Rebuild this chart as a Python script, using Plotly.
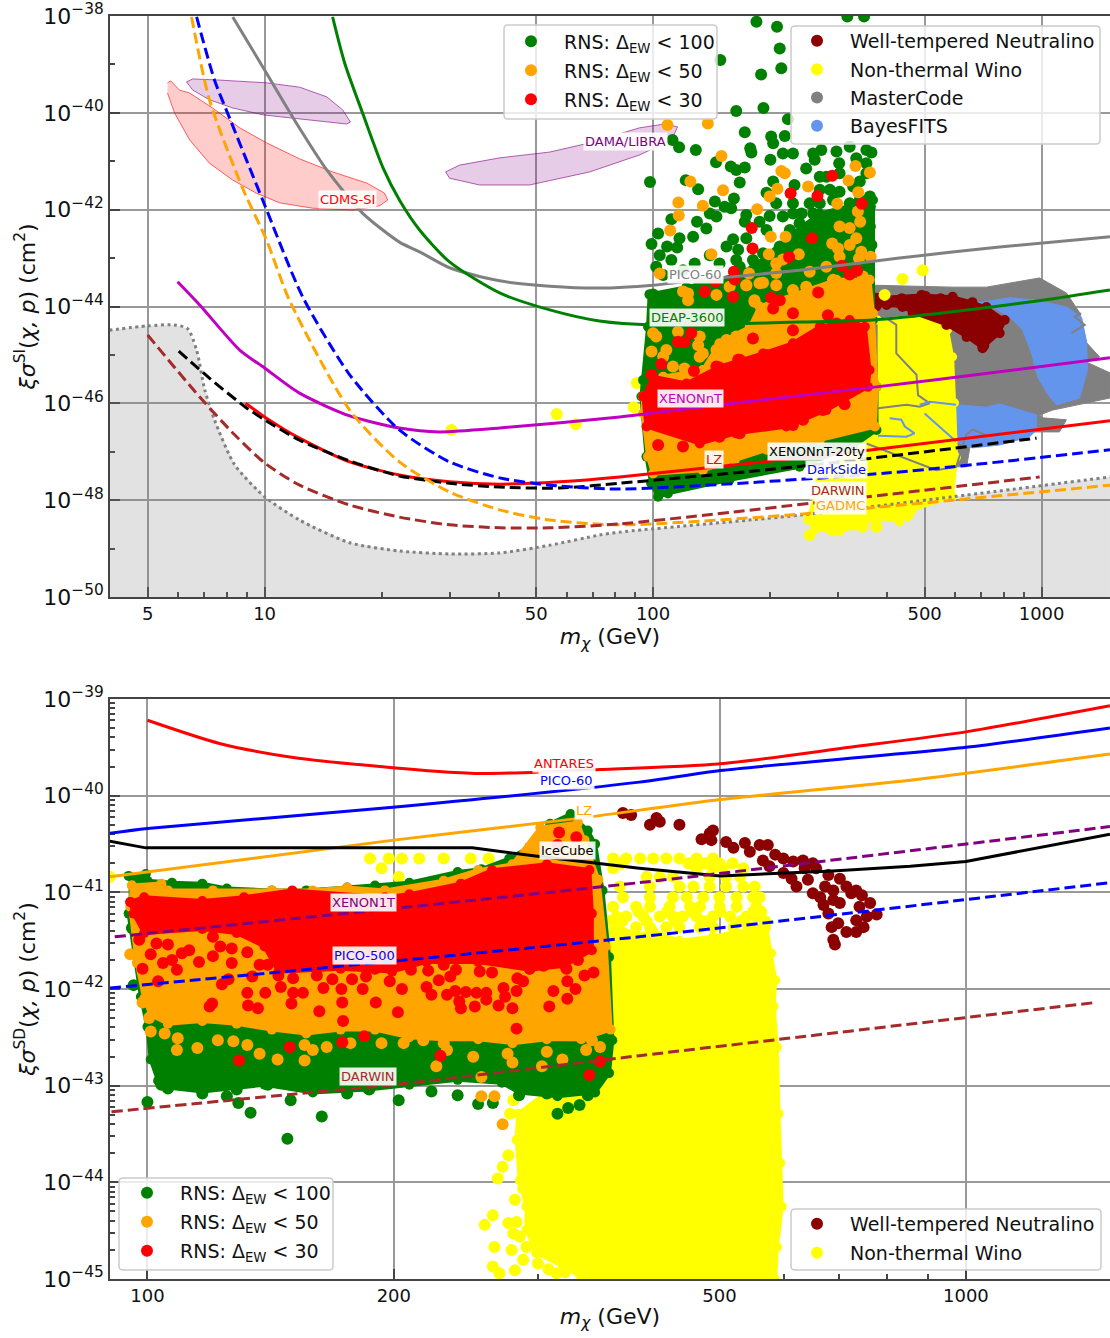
import numpy as np
import plotly.graph_objects as go

# ---------- all arrays hold log10(mass/GeV) and log10(sigma/cm2) ----------
# --- upper panel: limit curves
pico60_si_x = [0.918,1.0,1.072,1.160,1.252,1.347,1.399,1.476,1.605,1.734,1.862,2.0,2.12,2.377,2.634,2.892,3.176]
pico60_si_y = [-38.02,-39.115,-40.086,-41.18,-42.07,-42.67,-42.87,-43.20,-43.47,-43.58,-43.62,-43.56,-43.45,-43.25,-43.0,-42.77,-42.56]
deap_x = [1.175,1.206,1.252,1.304,1.347,1.399,1.476,1.605,1.734,1.862,2.0,2.377,2.565,2.771,3.003,3.176]
deap_y = [-38.02,-38.97,-40.0,-41.12,-41.8,-42.42,-43.08,-43.72,-44.07,-44.30,-44.38,-44.32,-44.28,-44.11,-43.87,-43.66]
xenonnt_x = [0.776,0.833,0.936,1.0,1.09,1.219,1.347,1.45,1.605,1.914,2.12,2.575,2.892,3.176]
xenonnt_y = [-43.49,-43.97,-44.90,-45.27,-45.79,-46.26,-46.51,-46.59,-46.51,-46.28,-46.08,-45.66,-45.35,-45.06]
xenon20_x = [0.779,0.858,0.951,1.0,1.09,1.219,1.347,1.476,1.605,1.76,1.914,2.369,2.987]
xenon20_y = [-44.92,-45.48,-46.08,-46.34,-46.76,-47.19,-47.50,-47.65,-47.73,-47.75,-47.65,-47.31,-46.72]
lz_si_x = [0.951,1.0,1.09,1.219,1.347,1.476,1.605,1.76,1.914,2.565,3.176]
lz_si_y = [-46.0,-46.28,-46.72,-47.21,-47.48,-47.62,-47.67,-47.62,-47.52,-46.96,-46.36]
darkside_x = [0.825,0.871,0.91,0.995,1.098,1.219,1.347,1.476,1.605,1.734,1.914,2.601,3.176]
darkside_y = [-38.02,-39.32,-40.11,-41.8,-43.80,-45.41,-46.55,-47.21,-47.54,-47.69,-47.77,-47.44,-46.96]
gadmc_x = [0.812,0.858,0.943,1.005,1.064,1.219,1.347,1.476,1.605,1.734,1.914,2.344,3.176]
gadmc_y = [-38.02,-39.73,-41.55,-42.63,-43.87,-46.14,-47.21,-47.83,-48.20,-48.41,-48.51,-48.31,-47.69]
darwin_si_x = [0.699,0.833,0.923,1.0,1.09,1.219,1.347,1.476,1.605,1.734,1.914,2.995]
darwin_si_y = [-44.59,-45.87,-46.65,-47.23,-47.69,-48.10,-48.35,-48.51,-48.57,-48.57,-48.49,-47.52]
floor_x = [0.6,0.699,0.768,0.802,0.825,0.846,0.871,0.923,1.0,1.09,1.219,1.347,1.476,1.605,1.734,1.862,1.914,2.377,2.771,3.176]
floor_y = [-44.49,-44.40,-44.38,-44.46,-44.90,-45.72,-46.34,-47.27,-47.93,-48.41,-48.88,-49.05,-49.11,-49.09,-48.93,-48.72,-48.66,-48.31,-47.93,-47.52]

# --- upper panel: closed regions
dama_low_x = [0.799,0.815,0.876,1.005,1.09,1.16,1.201,1.221,1.211,1.16,1.072,0.995,0.918,0.858,0.815,0.799]
dama_low_y = [-39.36,-39.30,-39.32,-39.38,-39.47,-39.67,-39.94,-40.19,-40.23,-40.19,-40.11,-40.04,-39.90,-39.73,-39.53,-39.36]
dama_high_x = [1.466,1.502,1.605,1.734,1.837,1.965,2.03,2.063,2.048,1.965,1.837,1.682,1.553,1.476,1.466]
dama_high_y = [-41.22,-41.08,-40.93,-40.81,-40.62,-40.31,-40.23,-40.29,-40.56,-40.87,-41.22,-41.49,-41.49,-41.35,-41.22]
cdms_x = [.750,.758,.781,.807,.866,.936,1.005,1.09,1.175,1.263,1.309,1.317,1.296,1.227,1.124,1.039,.979,.918,.858,.807,.768,.750]
cdms_y = [-39.38,-39.34,-39.53,-39.59,-39.90,-40.31,-40.62,-40.95,-41.22,-41.45,-41.66,-41.80,-41.92,-42.01,-41.97,-41.86,-41.66,-41.39,-41.04,-40.56,-40.0,-39.59]
mc_x = [2.565,2.771,2.858,2.995,3.064,3.098,3.116,3.149,3.116,3.176,3.176,3.09,3.028,2.995,3.003,3.064,3.046,2.822,2.807,2.781,2.776,2.565]
mc_y = [-43.56,-43.60,-43.60,-43.41,-43.72,-44.13,-44.75,-45.04,-45.15,-45.37,-45.89,-46.03,-46.14,-46.24,-46.30,-46.34,-46.59,-46.59,-47.31,-47.31,-46.55,-46.55]
bf_up_x = [2.833,2.918,2.987,3.064,3.103,3.116,3.118,3.098,3.039,3.021,2.99,2.974,2.951,2.918,2.874,2.833]
bf_up_y = [-43.93,-43.82,-43.87,-44.01,-44.22,-44.75,-45.31,-45.89,-46.03,-45.87,-45.46,-44.96,-44.48,-44.22,-44.01,-43.93]
bf_lo_x = [2.781,2.858,2.892,2.987,2.987,2.969,2.892,2.822,2.781,2.781]
bf_lo_y = [-46.03,-46.08,-46.01,-46.24,-46.55,-46.69,-46.86,-46.92,-46.80,-46.03]
wino_si_poly_x = [2.578,2.75,2.758,2.771,2.776,2.781,2.771,2.668,2.635,2.583,2.532,2.48,2.416,2.398,2.429,2.532,2.578]
wino_si_poly_y = [-44.28,-44.13,-44.48,-45.04,-45.99,-47.11,-47.93,-48.2,-48.45,-48.37,-48.51,-48.66,-48.62,-48.41,-47.58,-46.86,-46.55]
wino_si_x = [1.481,1.752,1.801,1.958,1.95,2.694,2.642,2.596,2.403,2.462,2.655,2.539,2.575,2.514,2.429]
wino_si_y = [-46.55,-46.22,-46.43,-45.58,-46.08,-43.25,-43.43,-43.76,-48.72,-48.62,-48.31,-48.55,-48.55,-48.51,-48.47]
wt_si_poly_x = [2.575,2.691,2.771,2.822,2.858,2.905,2.892,2.848,2.807,2.755,2.668,2.642,2.601,2.575]
wt_si_poly_y = [-43.82,-43.76,-43.80,-43.91,-44.01,-44.28,-44.55,-44.86,-44.63,-44.38,-44.13,-44.01,-43.97,-44.0]
wt_si_x = [2.578,2.61,2.64,2.665,2.70,2.74,2.80,2.85,2.89,2.85]
wt_si_y = [-43.85,-43.90,-43.85,-43.95,-43.80,-43.85,-44.0,-44.15,-44.35,-44.80]
green_si_poly_x = [1.991,1.987,1.974,1.97,1.983,1.995,2.013,2.038,2.197,2.377,2.515,2.575,2.575,2.566,2.566,2.429,2.36,2.24,2.086,1.991]
green_si_poly_y = [-43.75,-44.42,-45.52,-45.86,-47.1,-47.65,-47.93,-47.86,-47.58,-47.31,-46.89,-46.55,-45.66,-44.28,-41.8,-42.08,-42.49,-43.3,-43.6,-43.75]
green_si_x = [2.266,2.319,2.326,2.330,2.278,2.173,2.214,2.284,2.347,2.236,2.304,2.339,2.067,2.110,2.050,2.250,2.253,2.302,2.309,2.334,2.360,2.412,2.433,2.472,2.506,2.549,2.562,2.416,2.479,2.523,2.549,2.162,2.200,2.214,2.236,2.223,1.992,2.084,2.116,2.394,2.446,2.549,2.309,2.364,2.292,2.455,2.480,2.558,2.159,2.208,2.184,2.201,2.558,2.317,2.360,2.429,2.382,2.506,2.146,2.047,2.163,2.240,2.300,2.334,2.429,2.480,2.377,2.274,2.236,2.113,2.137,2.352,2.013,2.068,2.103,2.206,2.240,2.292,2.382,2.437,2.558,1.996,2.036,2.062,2.189,2.219,2.446,2.515,2.562,2.017,2.047,2.107,2.257,2.390,2.429,2.008,2.146,2.026,2.257,2.223,2.360,2.000,2.034,2.120,2.274,2.394,2.500,2.543,2.326,2.420,2.497,2.394,2.171,2.077,2.300,2.455,2.412,2.540,2.532,2.463,2.480,2.429,2.532,2.360,2.403,2.515,2.429,2.214,2.283,2.334,2.429,2.472,2.360]
green_si_y = [-38.12,-38.22,-38.67,-39.08,-39.21,-38.91,-39.96,-39.90,-40.13,-40.40,-40.49,-40.48,-40.71,-40.77,-40.56,-40.73,-40.82,-40.97,-40.63,-40.84,-40.84,-40.84,-40.77,-40.80,-40.70,-40.77,-40.82,-40.97,-41.04,-40.94,-41.04,-41.02,-41.11,-41.18,-41.13,-41.44,-41.43,-41.39,-41.58,-41.15,-41.32,-41.25,-41.42,-41.49,-41.65,-41.59,-41.63,-41.73,-41.83,-41.77,-41.94,-41.97,-41.94,-41.87,-41.87,-41.87,-42.08,-41.87,-42.08,-42.20,-42.14,-42.11,-42.13,-42.14,-42.14,-42.08,-42.28,-42.25,-42.25,-42.25,-42.39,-42.42,-42.49,-42.59,-42.56,-42.61,-42.59,-42.42,-42.52,-42.35,-42.35,-42.71,-42.76,-42.78,-42.76,-42.83,-42.56,-42.49,-42.73,-42.94,-43.04,-43.11,-43.04,-42.80,-42.90,-43.18,-42.94,-43.35,-43.25,-43.18,-43.32,-43.75,-43.83,-43.52,-43.59,-43.04,-38.01,-38.01,-42.76,-42.63,-42.14,-42.42,-43.11,-43.25,-43.32,-42.14,-42.08,-42.08,-41.80,-41.80,-41.25,-41.32,-41.42,-42.08,-41.87,-41.52,-41.59,-43.04,-42.90,-42.90,-43.18,-42.90,-43.04]
orange_si_poly_x = [2.557,2.566,2.575,2.571,2.429,2.292,2.21,2.128,2.0,1.987,1.974,1.974,2.026,2.128,2.171,2.249,2.274,2.394,2.472,2.557]
orange_si_poly_y = [-43.45,-44.14,-45.66,-46.48,-46.76,-46.96,-47.17,-47.38,-47.45,-47.1,-46.21,-45.86,-45.45,-45.31,-44.76,-44.42,-44.0,-43.66,-43.45,-43.45]
orange_si_x = [2.037,2.141,2.176,2.33,2.339,2.096,2.18,2.065,2.128,2.066,2.044,2.268,2.303,2.341,2.32,2.30,2.399,2.503,2.521,2.558,2.528,2.474,2.527,2.533,2.48,2.506,2.523,2.461,2.476,2.506,2.536,2.56,2.53,2.15,2.298,2.375,2.017,2.247,2.283,2.24,2.317,2.334,2.403,2.446,2.48,2.463,2.506,2.54,2.394,2.163,2.077,2.09,2.317,2.36,2.261,2.472,2.008,1.996,2.034,2.064,2.116,2.171,2.026,2.068,2.128,2.231,2.261,2.197,2.24,2.09,2.287,2.274,2.317,2.214,2.081,2.12,2.051,2.026,2.189,2.163,2.0,2.137,2.12]
orange_si_y = [-40.25,-40.22,-40.89,-41.20,-41.25,-41.42,-41.60,-41.85,-41.92,-42.12,-42.43,-41.99,-42.56,-42.56,-41.57,-41.73,-41.52,-41.40,-41.10,-41.23,-41.64,-41.88,-42.04,-42.25,-42.35,-42.38,-42.59,-42.70,-42.80,-42.73,-42.87,-42.97,-43.01,-42.92,-42.92,-42.92,-43.32,-43.32,-43.51,-43.56,-43.11,-43.03,-43.28,-43.18,-42.97,-43.45,-43.52,-43.38,-43.59,-43.76,-43.69,-43.73,-43.56,-43.66,-43.87,-43.73,-44.62,-44.93,-44.90,-44.52,-44.80,-44.83,-45.52,-45.52,-44.97,-44.59,-43.90,-43.59,-43.56,-43.87,-44.28,-43.52,-43.31,-44.62,-45.28,-45.04,-45.24,-45.04,-44.69,-44.9,-44.55,-44.28,-44.62]
red_si_poly_x = [1.975,1.983,2.12,2.214,2.343,2.446,2.553,2.557,2.545,2.506,2.429,2.36,2.283,2.171,2.086,2.0,1.975]
red_si_poly_y = [-45.86,-46.48,-46.83,-46.62,-46.48,-46.14,-45.66,-45.31,-44.42,-44.28,-44.42,-44.76,-44.97,-45.24,-45.59,-45.45,-45.86]
red_si_x = [2.461,2.354,2.423,2.537,2.254,2.409,2.256,2.35,2.486,2.208,2.506,2.525,2.21,2.161,2.133,2.425,2.206,2.304,2.326,2.309,2.36,2.45,2.36,2.257,2.098,2.064,2.081,2.105,2.021,1.996,2.223,2.163,2.013,2.077,2.493,2.128,2.171,2.223,2.266,2.309,2.36,2.386,2.437,2.219,2.292,2.343,2.394,2.433,2.472]
red_si_y = [-41.30,-41.66,-41.72,-41.88,-42.38,-42.59,-42.80,-42.98,-43.16,-43.28,-43.34,-43.26,-43.44,-43.49,-43.69,-43.71,-43.80,-43.82,-43.87,-44.04,-44.14,-44.18,-44.49,-44.66,-44.55,-44.73,-44.74,-45.33,-45.19,-45.41,-45.10,-45.24,-46.86,-46.89,-46.02,-46.72,-46.69,-46.62,-46.45,-46.34,-46.45,-46.34,-46.14,-45.10,-45.0,-44.93,-44.83,-44.45,-44.35]
# thin contours over the wino region
contours_gray = [([2.6,2.626,2.626,2.678,2.682,2.712,2.686,2.652,2.579],[-44.24,-44.38,-44.97,-45.41,-45.83,-46.0,-46.07,-46.03,-46.10]),
                 ([2.549,2.729,2.78,2.806,2.823,2.866],[-46.83,-47.38,-47.31,-46.65,-46.54,-46.69]),
                 ([3.077,3.111,3.085,3.102],[-44.55,-44.38,-44.21,-44.14])]
contours_blue = [([2.609,2.639,2.648,2.673,2.652,2.579],[-46.31,-46.34,-46.48,-46.62,-46.69,-46.67]),
                 ([2.699,2.78],[-46.21,-46.79]),
                 ([2.686,2.712,2.78],[-46.03,-45.97,-46.03])]

# --- lower panel: limit curves
antares_x = [2.0,2.088,2.174,2.247,2.40,2.553,2.70,2.858,3.0,3.176]
antares_y = [-39.22,-39.46,-39.6,-39.67,-39.77,-39.73,-39.67,-39.50,-39.34,-39.07]
pico60_sd_x = [1.954,2.0,2.30,2.601,2.70,3.0,3.176]
pico60_sd_y = [-40.39,-40.34,-40.12,-39.86,-39.74,-39.5,-39.3]
lz_sd_x = [1.954,2.301,2.522,2.70,2.932,3.176]
lz_sd_y = [-40.84,-40.46,-40.24,-40.04,-39.84,-39.57]
icecube_x = [1.954,1.998,2.397,2.479,2.601,2.70,2.837,2.932,3.0,3.176]
icecube_y = [-40.47,-40.54,-40.54,-40.63,-40.75,-40.83,-40.78,-40.73,-40.68,-40.40]
xenon1t_x = [1.96,2.601,3.176]
xenon1t_y = [-41.46,-40.90,-40.32]
pico500_x = [1.954,2.601,3.176]
pico500_y = [-41.99,-41.46,-40.90]
darwin_sd_x = [1.956,2.175,2.301,2.601,3.158]
darwin_sd_y = [-43.27,-43.09,-42.99,-42.69,-42.14]

# --- lower panel: regions and points
wino_sd_poly_x = [2.563,2.597,2.618,2.65,2.691,2.732,2.756,2.762,2.767,2.765,2.769,2.771,2.773,2.775,2.769,2.767,2.536,2.508,2.475,2.463,2.463,2.455,2.451,2.453,2.508,2.569]
wino_sd_poly_y = [-41.29,-41.45,-41.4,-41.5,-41.46,-41.39,-41.36,-41.63,-41.91,-42.18,-42.6,-43.29,-43.8,-44.25,-44.67,-45.01,-45.01,-44.87,-44.73,-44.49,-44.25,-43.98,-43.56,-43.29,-42.94,-42.25]
wino_sd_rows = {
    -40.65:[2.569,2.585,2.602,2.618,2.634,2.65,2.671,2.691,2.272,2.295,2.311,2.332,2.362,2.395,2.417],
    -40.70:[2.579,2.661,2.681,2.699,2.715],
    -40.75:[2.569,2.671,2.691,2.703,2.728,2.286],
    -40.84:[2.61,2.626,2.642,2.687,2.707,2.724,2.307,1.954],
    -40.94:[2.577,2.614,2.65,2.667,2.687,2.707,2.728,2.742],
    -41.05:[2.581,2.614,2.642,2.659,2.679,2.699,2.72,2.74,2.748],
    -41.15:[2.569,2.597,2.614,2.638,2.663,2.675,2.699,2.72,2.744],
    -41.2:[2.6,2.635,2.665,2.7,2.74,2.75],
    -41.25:[2.573,2.585,2.606,2.626,2.642,2.654,2.671,2.691,2.712,2.732,2.744],
    -41.3:[2.58,2.61,2.645,2.68,2.725,2.755],
    -41.36:[2.573,2.597,2.614,2.634,2.65,2.675,2.691,2.716,2.736,2.752],
}
wino_sd_x = [2.443,2.447,2.441,2.434,2.428,2.449,2.459,2.473,2.422,2.412,2.441,2.451,2.447,2.455,2.424,2.445,2.422,2.43,2.449,2.477,2.5,2.463,2.49,2.53,2.459,2.51,2.52,2.545]
wino_sd_y = [-43.29,-43.15,-43.72,-43.84,-43.96,-44.18,-44.06,-44.32,-44.34,-44.44,-44.42,-44.41,-44.53,-44.56,-44.67,-44.70,-44.87,-44.94,-44.91,-44.84,-44.94,-44.67,-44.9,-44.95,-44.8,-44.93,-44.88,-44.93]
wt_sd_x = [2.581,2.591,2.614,2.622,2.626,2.65,2.677,2.687,2.691,2.689,2.707,2.716,2.73,2.736,2.748,2.758,2.752,2.767,2.777,2.789,2.801,2.76,2.777,2.787,2.803,2.817,2.832,2.793,2.813,2.828,2.846,2.854,2.866,2.873,2.883,2.891,2.87,2.826,2.838,2.832,2.836,2.844,2.838,2.84,2.854,2.866,2.875,2.879,2.866,2.86,2.846,2.822,2.838,2.807,2.813]
wt_sd_y = [-40.18,-40.2,-40.3,-40.23,-40.27,-40.30,-40.45,-40.39,-40.36,-40.46,-40.48,-40.54,-40.49,-40.58,-40.51,-40.51,-40.67,-40.61,-40.65,-40.68,-40.67,-40.73,-40.80,-40.86,-40.75,-40.75,-40.82,-40.94,-41.01,-40.94,-40.86,-40.94,-40.98,-41.03,-41.11,-41.23,-41.15,-41.13,-41.08,-41.22,-41.36,-41.32,-41.49,-41.54,-41.41,-41.41,-41.36,-41.25,-41.29,-41.01,-41.11,-41.05,-40.98,-40.87,-40.70]
green_sd_poly_x = [1.977,1.998,2.0,2.03,2.067,2.097,2.152,2.194,2.244,2.278,2.32,2.379,2.408,2.442,2.467,2.492,2.517,2.538,2.547,2.556,2.564,2.568,2.564,2.547,2.501,2.454,2.433,2.379,2.32,2.269,2.202,2.143,2.067,2.025,2.013,2.004,2.0,1.992,1.977]
green_sd_poly_y = [-40.83,-40.81,-40.88,-40.90,-40.91,-40.96,-40.98,-40.98,-40.95,-40.93,-40.90,-40.79,-40.76,-40.65,-40.53,-40.29,-40.19,-40.36,-40.5,-40.98,-41.67,-42.53,-42.87,-43.07,-43.11,-43.07,-42.97,-42.94,-42.99,-43.04,-43.07,-42.99,-43.06,-43.02,-42.95,-42.73,-42.39,-42.08,-41.22]
green_sd_x = [2.0,2.111,2.126,2.175,2.213,2.307,2.404,2.422,2.501,2.514,2.528,2.538,2.097,2.109,2.017,2.025,2.067,2.147,2.244,2.271,2.347,2.379,2.454,2.488,2.171,1.981,1.983]
green_sd_y = [-43.17,-43.18,-43.28,-43.15,-43.32,-43.15,-43.19,-43.18,-43.29,-43.23,-43.2,-43.1,-43.11,-43.04,-42.99,-43.03,-43.08,-42.99,-43.08,-43.04,-43.06,-43.1,-43.1,-43.08,-43.55,-41.37,-41.96]
orange_sd_poly_x = [1.981,2.017,2.025,2.08,2.152,2.202,2.244,2.29,2.362,2.404,2.446,2.48,2.526,2.534,2.551,2.56,2.566,2.53,2.488,2.446,2.404,2.362,2.32,2.278,2.236,2.194,2.152,2.109,2.067,2.025,2.004,1.996,1.987,1.979,1.981]
orange_sd_poly_y = [-40.93,-40.91,-40.98,-40.98,-40.98,-40.98,-40.95,-40.98,-40.88,-40.77,-40.71,-40.33,-40.28,-40.46,-40.87,-41.56,-42.42,-42.52,-42.52,-42.56,-42.52,-42.52,-42.5,-42.42,-42.42,-42.46,-42.42,-42.36,-42.33,-42.36,-42.27,-42.1,-41.73,-41.15,-40.93]
orange_sd_x = [1.979,1.994,2.002,2.004,2.021,2.037,2.036,2.061,2.086,2.105,2.122,2.137,2.159,2.192,2.192,2.202,2.219,2.248,2.286,2.313,2.337,2.362,2.366,2.353,2.398,2.408,2.408,2.424,2.44,2.446,2.482,2.488,2.507,2.536,2.553,2.543,2.434]
orange_sd_y = [-41.64,-42.14,-42.30,-42.44,-42.46,-42.51,-42.63,-42.61,-42.53,-42.54,-42.58,-42.67,-42.73,-42.74,-42.58,-42.63,-42.6,-42.56,-42.56,-42.56,-42.53,-42.56,-42.63,-42.8,-42.7,-42.91,-43.11,-43.11,-42.67,-42.76,-42.8,-42.65,-42.73,-42.63,-42.6,-42.53,-43.4]
red_sd_poly_x = [1.979,1.996,2.067,2.118,2.177,2.29,2.32,2.383,2.421,2.488,2.54,2.543,2.543,2.509,2.467,2.404,2.341,2.299,2.236,2.16,2.143,2.109,2.067,1.996,1.983,1.979]
red_sd_poly_y = [-41.1,-41.05,-41.09,-41.05,-40.98,-41.05,-41.02,-40.91,-40.77,-40.71,-40.77,-41.22,-41.6,-41.76,-41.8,-41.72,-41.72,-41.82,-41.79,-41.82,-41.56,-41.42,-41.38,-41.42,-41.22,-41.1]
red_sd_x = [2.112,2.174,2.238,2.265,2.358,2.451,2.239,2.306,2.21,2.279,2.238,2.176,2.123,2.135,2.076,2.079,2.122,2.144,2.163,2.178,2.19,2.215,2.237,2.263,2.311,2.296,2.25,2.267,2.226,2.207,2.178,2.16,2.128,2.099,2.091,2.013,1.994,2.036,2.019,2.004,2.03,2.042,2.051,2.063,2.08,2.103,2.122,2.137,2.147,2.103,2.08,2.089,2.025,2.011,1.99,2.341,2.347,2.356,2.366,2.376,2.389,2.402,2.414,2.435,2.451,2.437,2.429,2.414,2.4,2.383,2.381,2.446,2.452,2.459,2.406,2.421,2.377,2.343,2.362,2.496,2.513,2.523,2.513,2.491,2.512,2.534,2.545,2.526,2.467,2.484,2.553,2.54,2.503,2.524,2.501,2.322,2.295,2.278,2.37]
red_sd_y = [-42.74,-42.6,-42.55,-42.49,-42.69,-42.41,-42.33,-42.24,-42.23,-42.14,-42.14,-42.15,-42.17,-42.2,-42.18,-42.15,-42.04,-42.04,-41.98,-42.04,-42.04,-41.99,-42.0,-42.0,-42.0,-41.92,-41.9,-41.87,-41.9,-41.86,-41.89,-41.86,-41.87,-41.9,-41.95,-41.92,-41.79,-41.8,-41.73,-41.64,-41.7,-41.63,-41.6,-41.72,-41.66,-41.73,-41.62,-41.75,-41.75,-41.58,-41.46,-41.56,-41.54,-41.53,-41.49,-41.98,-42.06,-41.91,-42.06,-42.02,-42.03,-42.04,-42.04,-41.99,-42.02,-42.08,-42.17,-42.11,-42.18,-42.2,-42.13,-42.2,-41.89,-41.92,-41.82,-41.83,-41.8,-41.81,-41.75,-42.02,-41.92,-42.0,-42.1,-42.18,-41.79,-41.86,-41.83,-41.7,-41.79,-41.76,-42.75,-42.89,-40.38,-40.43,-40.51,-41.8,-41.78,-41.79,-41.87]

# --- labels on the curves (log10 mass, log10 sigma)
labels_si = [("DAMA/LIBRA",1.929,-40.60,"purple"),("CDMS-SI",1.214,-41.80,"red"),("PICO-60",2.109,-43.33,"gray"),
             ("DEAP-3600",2.086,-44.22,"green"),("XENONnT",2.097,-45.89,"#c000c0"),("XENONnT-20ty",2.423,-47.0,"black"),
             ("LZ",2.156,-47.17,"red"),("DarkSide",2.472,-47.36,"blue"),("DARWIN",2.477,-47.81,"brown"),("GADMC",2.483,-48.10,"orange")]
labels_sd = [("ANTARES",2.509,-39.67,"red"),("PICO-60",2.512,-39.84,"blue"),("LZ",2.534,-40.15,"orange"),
             ("IceCube",2.513,-40.57,"black"),("XENON1T",2.264,-41.11,"purple"),("PICO-500",2.265,-41.65,"blue"),
             ("DARWIN",2.269,-42.91,"brown")]

# ticks
si_x_ticks = [5,10,50,100,500,1000]
sd_x_ticks = [100,200,500,1000]
si_x_minor = [6,7,8,9,20,30,40,60,70,80,90,200,300,400,600,700,800,900]
sd_x_minor = [300,400,600,700,800,900]
si_y_ticks = list(range(-50,-37,2))
sd_y_ticks = list(range(-45,-38))

# ---------- styling constants ----------
FONT = "DejaVu Sans"
LFS = 19
GREEN, ORANGE, RED, YELLOW, DARKRED = "green","orange","red","yellow","#8b0000"
GRAY, BLUE = "gray","#6495ED"
MS = 12
fig = go.Figure()
def p(a): return np.power(10.0, np.asarray(a, dtype=float))
def poly(x,y,color,ax,lw=2,fill=None,lc=None,dots=0):
    fig.add_trace(go.Scatter(x=p(x),y=p(y),mode="lines+markers" if dots else "lines",fill="toself",fillcolor=fill or color,
        marker=dict(color=color,size=dots or 1,line=dict(width=0)),
        line=dict(color=lc or color,width=lw),showlegend=False,hoverinfo="skip",xaxis=ax[0],yaxis=ax[1]))
def pts(x,y,color,ax,name=None,legend=None):
    fig.add_trace(go.Scatter(x=p(x),y=p(y),mode="markers",marker=dict(color=color,size=MS,line=dict(width=0)),
        name=name,legend=legend,legendgroup=(legend or "")+(name or ""),showlegend=name is not None,hoverinfo="skip",xaxis=ax[0],yaxis=ax[1]))
def curve(x,y,color,ax,dash="solid",w=3,smooth=True):
    fig.add_trace(go.Scatter(x=p(x),y=p(y),mode="lines",line=dict(color=color,width=w,dash=dash,shape="spline" if smooth else "linear",smoothing=0.7),
        showlegend=False,hoverinfo="skip",xaxis=ax[0],yaxis=ax[1]))
A1=("x","y"); A2=("x2","y2")
DASH="11px,5px"
LAB50="RNS: Δ<sub>EW</sub> &lt; 50"; LAB30="RNS: Δ<sub>EW</sub> &lt; 30"; LAB100="RNS: Δ<sub>EW</sub> &lt; 100"

# ---- upper panel
fig.add_trace(go.Scatter(x=p(floor_x+[3.176,0.6]),y=p(floor_y+[-50,-50]),mode="lines",fill="toself",
    fillcolor="rgba(128,128,128,0.23)",line=dict(width=0),showlegend=False,hoverinfo="skip",xaxis="x",yaxis="y"))
poly(cdms_x,cdms_y,"red",A1,lw=1,fill="rgba(255,0,0,0.2)",lc="rgba(255,0,0,0.6)")
poly(dama_low_x,dama_low_y,"purple",A1,lw=1,fill="rgba(128,0,128,0.2)",lc="rgba(128,0,128,0.6)")
poly(dama_high_x,dama_high_y,"purple",A1,lw=1,fill="rgba(128,0,128,0.2)",lc="rgba(128,0,128,0.6)")
poly(mc_x,mc_y,GRAY,A1,lw=1)
poly(bf_up_x,bf_up_y,BLUE,A1,lw=1)
poly(bf_lo_x,bf_lo_y,BLUE,A1,lw=1)
poly(wino_si_poly_x,wino_si_poly_y,YELLOW,A1,lw=3,dots=9)
poly(wt_si_poly_x,wt_si_poly_y,DARKRED,A1,lw=3,dots=10)
pts(wt_si_x,wt_si_y,DARKRED,A1,"Well-tempered Neutralino","legend2")
pts(wino_si_x,wino_si_y,YELLOW,A1,"Non-thermal Wino","legend2")
for n,c in (("MasterCode",GRAY),("BayesFITS",BLUE)):
    fig.add_trace(go.Scatter(x=[None],y=[None],mode="markers",marker=dict(color=c,size=MS),name=n,legend="legend2",legendgroup=n,xaxis="x",yaxis="y"))
poly(green_si_poly_x,green_si_poly_y,GREEN,A1,lw=4,dots=10)
pts(green_si_x,green_si_y,GREEN,A1,LAB100,"legend")
poly(orange_si_poly_x,orange_si_poly_y,ORANGE,A1,lw=4,dots=10)
pts(orange_si_x,orange_si_y,ORANGE,A1,LAB50,"legend")
poly(red_si_poly_x,red_si_poly_y,RED,A1,lw=4,dots=10)
pts(red_si_x,red_si_y,RED,A1,LAB30,"legend")
for cx,cy in contours_gray: curve(cx,cy,GRAY,A1,w=2,smooth=False)
for cx,cy in contours_blue: curve(cx,cy,BLUE,A1,w=2,smooth=False)
curve(floor_x,floor_y,GRAY,A1,dash="3px,3.5px",w=3)
curve(pico60_si_x,pico60_si_y,GRAY,A1)
curve(deap_x,deap_y,GREEN,A1)
curve(xenonnt_x,xenonnt_y,"#c000c0",A1)
curve(lz_si_x,lz_si_y,RED,A1)
curve(xenon20_x,xenon20_y,"black",A1,dash=DASH)
curve(darkside_x,darkside_y,"blue",A1,dash=DASH)
curve(gadmc_x,gadmc_y,ORANGE,A1,dash=DASH)
curve(darwin_si_x,darwin_si_y,"brown",A1,dash=DASH)

# ---- lower panel
poly(wino_sd_poly_x,wino_sd_poly_y,YELLOW,A2,lw=4,dots=10)
row_x=[v for r in wino_sd_rows.values() for v in r]
row_y=[k for k,r in wino_sd_rows.items() for _ in r]
pts(wt_sd_x,wt_sd_y,DARKRED,A2,"Well-tempered Neutralino","legend4")
pts(wino_sd_x+row_x,wino_sd_y+row_y,YELLOW,A2,"Non-thermal Wino","legend4")
poly(green_sd_poly_x,green_sd_poly_y,GREEN,A2,lw=4,dots=10)
pts(green_sd_x,green_sd_y,GREEN,A2,LAB100,"legend3")
poly(orange_sd_poly_x,orange_sd_poly_y,ORANGE,A2,lw=4,dots=10)
pts(orange_sd_x,orange_sd_y,ORANGE,A2,LAB50,"legend3")
poly(red_sd_poly_x,red_sd_poly_y,RED,A2,lw=4,dots=10)
pts(red_sd_x,red_sd_y,RED,A2,LAB30,"legend3")
curve(antares_x,antares_y,RED,A2)
curve(pico60_sd_x,pico60_sd_y,"blue",A2)
curve(lz_sd_x,lz_sd_y,ORANGE,A2)
curve(icecube_x,icecube_y,"black",A2,smooth=False)
curve(xenon1t_x,xenon1t_y,"purple",A2,dash=DASH)
curve(pico500_x,pico500_y,"blue",A2,dash=DASH)
curve(darwin_sd_x,darwin_sd_y,"brown",A2,dash=DASH)

# ---- labels
anns=[]
for labs,xr,yr in ((labels_si,"x","y"),(labels_sd,"x2","y2")):
    for t,lx,ly,c in labs:
        anns.append(dict(text=t,x=lx,y=ly,xref=xr,yref=yr,showarrow=False,font=dict(family=FONT,size=13,color=c),
                         bgcolor="rgba(255,255,255,0.9)",borderpad=1))

W,H=1110,1338
def ax_common(fs):
    return dict(type="log",showgrid=True,gridcolor="#999999",gridwidth=1.5,showline=True,linecolor="#444444",linewidth=1.5,
                mirror=True,ticks="inside",ticklen=10,tickwidth=1.5,tickcolor="#444444",zeroline=False,automargin=False,
                tickfont=dict(family=FONT,size=fs,color="#111111"),layer="below traces")
def sup(v): return "10<sup>−%d</sup>"%abs(v)
def ylab(t): return dict(text=t,font=dict(family=FONT,size=22,color="#111111"),standoff=2)
YSI="<i>ξσ</i><sup>SI</sup>(<i>χ, p</i>) (cm<sup>2</sup>)"
YSD="<i>ξσ</i><sup>SD</sup>(<i>χ, p</i>) (cm<sup>2</sup>)"
XT="<i>m<sub>χ</sub></i> (GeV)"
def xlab(): return dict(text=XT,font=dict(family=FONT,size=22,color="#111111"),standoff=3)
def legend(x,ytop,gap=1.3):
    return dict(x=x/W,y=1-ytop/H,xanchor="left",yanchor="top",bgcolor="rgba(0,0,0,0)",borderwidth=0,
                font=dict(family=FONT,size=LFS,color="#111111"),itemsizing="constant",itemwidth=56,traceorder="grouped",tracegroupgap=gap)
def frame(x0,y0,x1,y1,r=4):
    # rounded legend frame, in paper fractions
    X=lambda v:v/W
    Y=lambda v:1-v/H
    path=(f"M {X(x0+r)} {Y(y0)} L {X(x1-r)} {Y(y0)} Q {X(x1)} {Y(y0)} {X(x1)} {Y(y0+r)} L {X(x1)} {Y(y1-r)} "
          f"Q {X(x1)} {Y(y1)} {X(x1-r)} {Y(y1)} L {X(x0+r)} {Y(y1)} Q {X(x0)} {Y(y1)} {X(x0)} {Y(y1-r)} "
          f"L {X(x0)} {Y(y0+r)} Q {X(x0)} {Y(y0)} {X(x0+r)} {Y(y0)} Z")
    return dict(type="path",path=path,xref="paper",yref="paper",fillcolor="rgba(255,255,255,0.8)",
                line=dict(color="#cccccc",width=1.5),layer="above")
fig.update_layout(
    width=W,height=H,autosize=False,margin=dict(l=0,r=0,t=0,b=0,pad=0,autoexpand=False),paper_bgcolor="white",plot_bgcolor="white",
    font=dict(family=FONT,size=18),annotations=anns,hovermode=False,
    shapes=[frame(504,25,717,119),frame(791,26,1100,144),frame(119,1178,333,1270),frame(791,1209,1101,1270)],
    xaxis=dict(ax_common(18),domain=[110/W,1],range=[np.log10(4),np.log10(1500)],tickmode="array",tickvals=si_x_ticks,ticktext=[str(v) for v in si_x_ticks],
               minor=dict(tickmode="array",tickvals=si_x_minor,ticks="inside",ticklen=5,tickcolor="#444444",showgrid=False),
               title=xlab(),anchor="y"),
    yaxis=dict(ax_common(22),domain=[1-597/H,1-16/H],range=[-50,-38],tickmode="array",tickvals=[10.0**v for v in si_y_ticks],ticktext=[sup(v) for v in si_y_ticks],
               minor=dict(tickmode="array",tickvals=[10.0**v for v in range(-49,-38,2)],ticks="inside",ticklen=5,tickcolor="#444444",showgrid=False),
               title=ylab(YSI),anchor="x"),
    xaxis2=dict(ax_common(18),domain=[110/W,1],range=[np.log10(90),np.log10(1500)],tickmode="array",tickvals=sd_x_ticks,ticktext=[str(v) for v in sd_x_ticks],
               minor=dict(tickmode="array",tickvals=sd_x_minor,ticks="inside",ticklen=5,tickcolor="#444444",showgrid=False),
               title=xlab(),anchor="y2"),
    yaxis2=dict(ax_common(22),domain=[1-1279/H,1-699/H],range=[-45,-39],tickmode="array",tickvals=[10.0**v for v in sd_y_ticks],ticktext=[sup(v) for v in sd_y_ticks],
               minor=dict(tickmode="array",tickvals=[m*10.0**e for e in range(-45,-39) for m in (2,3,4,5,6,7,8,9)],ticks="inside",ticklen=5,tickcolor="#444444",showgrid=False),
               title=ylab(YSD),anchor="x2"),
    legend=legend(498,22.5),legend2=legend(784,22,0.6),legend3=legend(114,1174),legend4=legend(784,1205),
)
fig.write_html("out.html",config=dict(displayModeBar=False),post_script="document.body.style.margin='0';document.body.style.overflow='hidden';")
